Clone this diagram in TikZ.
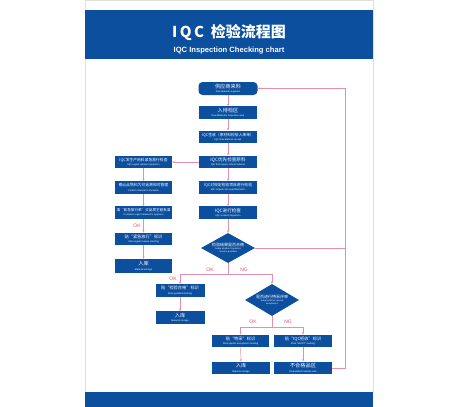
\documentclass[tikz,border=0pt]{standalone}
\usepackage{fontspec}
\setmainfont{Liberation Sans}
\newfontfamily\cjk{Noto Sans CJK SC}
\usetikzlibrary{shapes.geometric,arrows.meta}
\definecolor{iqcblue}{HTML}{0B4F9E}
\definecolor{iqcpink}{HTML}{E58FB0}
\definecolor{iqcred}{HTML}{E0506E}
\newcommand{\cnen}[3][5.2]{{\cjk\fontsize{#1}{#1}\selectfont #2}\\{\fontsize{2.4}{2.6}\selectfont #3}}
\begin{document}
\begin{tikzpicture}[x=1pt,y=-1pt,
  box/.style={fill=iqcblue,text=white,inner sep=0pt,align=center,minimum width=#1,minimum height=12.5pt,font=\fontsize{2.4}{4.2}\selectfont},
  box/.default=58,
  dia/.style={diamond,fill=iqcblue,inner sep=0pt,minimum width=54pt,minimum height=#1},
  dia/.default=30pt,
  dtext/.style={text=white,align=center,inner sep=0pt,font=\fontsize{2.3}{3}\selectfont},
  line/.style={draw=iqcpink,line width=0.5pt},
  conn/.style={line,-{Stealth[length=2.4pt,width=2pt]}},
  lab/.style={text=iqcred,font=\fontsize{5}{5}\selectfont,inner sep=0pt}]
\useasboundingbox (0,0) rectangle (474,407);
\fill[white] (0,0) rectangle (474,407);
\draw[gray!25,line width=0.4pt] (85,0) rectangle (373,392);
% banners
\fill[iqcblue] (85,10) rectangle (373,59);
\fill[iqcblue] (85,392) rectangle (373,407);
\node[text=white,inner sep=0pt] (title) at (229,33) {\cjk\bfseries\fontsize{15}{15}\selectfont I\,Q\,C\ \ 检验流程图};
\node[text=white,inner sep=0pt] (subtitle) at (229,51) {\bfseries\fontsize{7.6}{8}\selectfont IQC Inspection Checking chart};
% main column
\node[box,rounded corners=4pt,minimum width=59pt,minimum height=13pt] (b1) at (228,88.5) {\cnen{供应商来料}{Raw Material suppliers}};
\node[box] (b2) at (228,112.5) {\cnen{入待检区}{Raw Material's inspection area}};
\node[box] (b3) at (228,137) {\cnen[3.8]{IQC签收（原材料检验入库单）}{IQC Raw Material receipt}};
\node[box] (b4) at (228,162) {\cnen[4.6]{IQC优先检查原料}{IQC first inspect critical material}};
\node[box] (b5) at (228,187.5) {\cnen[3.8]{IQC对规定检验项目进行检验}{IQC inspects the specified items}};
\node[box] (b6) at (228,212.5) {\cnen[4.6]{IQC进行检查}{IQC conduct inspection}};
\node[dia] (d1) at (228,248) {};
\node[dtext] (d1t) at (d1.center) {{\cjk\fontsize{4}{4}\selectfont 检验结果是否合格}\\Judge whether inspection\\result is qualified};
% left column
\node[box=57pt] (L1) at (143.5,162) {\cnen[3.8]{IQC发生产用料紧急放行检查}{IQC urgent release inspection}};
\node[box=57pt] (L2) at (143.5,187.5) {\cnen[3.8]{确认此物料为可追溯和可管理}{Confirm material is traceable}};
\node[box=57pt] (L3) at (143.5,212.5) {\cnen[3.6]{填“紧急放行单”交品质主管批准}{Complete urgent release for approval}};
\node[box=57pt] (L4) at (143.5,239) {\cnen[4.2]{贴“紧急放行”标识}{Stick urgent release marking}};
\node[box=57pt,minimum height=14pt] (L5) at (143.5,266) {\cnen{入库}{Material storage}};
% middle
\node[box=49pt] (M1) at (180,290.5) {\cnen[4.2]{贴“检验合格”标识}{Stick qualified marking}};
\node[box=49pt] (M2) at (180,317.5) {\cnen{入库}{Material storage}};
\node[dia=32pt] (d2) at (272,300) {};
\node[dtext] (d2t) at (d2.center) {{\cjk\fontsize{4}{4}\selectfont 是否进行特采评审}\\Judge whether special\\acceptance};
% right bottom
\node[box=57pt] (R1) at (240.5,341) {\cnen[4.2]{贴“特采”标识}{Stick special acceptance marking}};
\node[box=58pt] (R2) at (303,341) {\cnen[4.2]{贴“IQC拒收”标识}{Stick ``NG/RT'' marking}};
\node[box=58pt] (R3) at (241,368) {\cnen{入库}{Material storage}};
\node[box=58pt] (R4) at (303,368) {\cnen{不合格品区}{Disqualified material area}};
% connectors
\draw[conn] (b1) -- (b2);
\draw[conn] (b2) -- (b3);
\draw[conn] (b3) -- (b4);
\draw[conn] (b4) -- (b5);
\draw[conn] (b5) -- (b6);
\draw[conn] (b6) -- (d1);
\draw[conn] (b4) -- (L1);
\draw[conn] (L1) -- (L2);
\draw[conn] (L2) -- (L3);
\draw[conn] (L3) -- (L4);
\node[lab] (okL) at (137,226) {OK};
\draw[conn] (L4) -- (L5);
\coordinate (s1) at (228,274);
\draw[line] (d1.south) -- (s1);
\draw[conn] (s1) -| (M1.north);
\draw[conn] (s1) -| (d2.north);
\node[lab] (ok1) at (210,270) {OK};
\node[lab] (ng1) at (244,270) {NG};
\node[lab] (ok2) at (173,279) {OK};
\draw[conn] (M1) -- (M2);
\coordinate (s2) at (272,327);
\draw[line] (d2.south) -- (s2);
\draw[conn] (s2) -| (R1.north);
\draw[conn] (s2) -| (R2.north);
\node[lab] (ok3) at (253,322) {OK};
\node[lab] (ng3) at (288,322) {NG};
\draw[conn] (R1) -- (R3);
\draw[conn] (R2) -- (R4);
\coordinate (c1) at (345,368);
\coordinate (c2) at (345,88.5);
\coordinate (c3) at (345,248);
\draw[conn] (R4.east) -- (c1) -- (c2) -- (b1.east);
\draw[line] (d1.east) -- (c3);
\end{tikzpicture}
\end{document}
